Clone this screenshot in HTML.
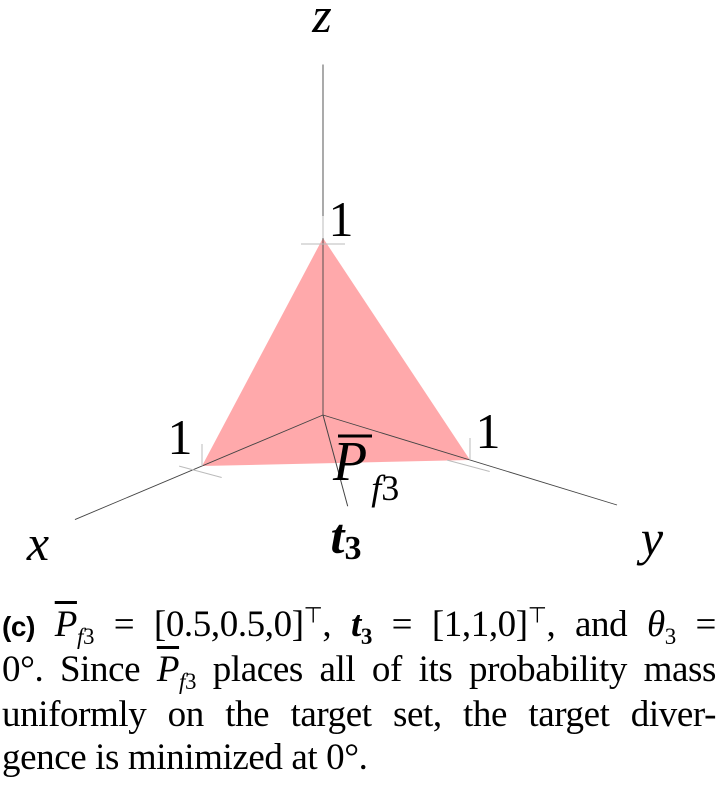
<!DOCTYPE html>
<html><head><meta charset="utf-8"><style>
body{margin:0;background:#fff;width:719px;height:797px;overflow:hidden;position:relative;font-family:"Liberation Serif",serif}
.cap{position:absolute;left:2px;width:714px;font-size:37px;line-height:40px;text-align:justify;text-align-last:justify;white-space:nowrap;letter-spacing:-0.4px}
.cap.last{text-align-last:left}
i{font-style:italic}
sub{font-size:23px;vertical-align:-8px;line-height:0}
sup{font-size:22px;line-height:0}
.ov{text-decoration:overline}
</style></head><body>
<svg id="chart" width="719" height="590" style="position:absolute;left:0;top:0" font-family="Liberation Serif, serif"></svg>
<div class="cap" style="top:605px"><b style="font-family:'Liberation Sans',sans-serif;font-size:28px">(c)</b> <i class="ov">P</i><sub><i>f</i>3</sub> = [0.5,0.5,0]<sup>⊤</sup>, <b><i>t</i><sub>3</sub></b> = [1,1,0]<sup>⊤</sup>, and <i>θ</i><sub>3</sub> =</div>
<div class="cap" style="top:650px">0°. Since <i class="ov">P</i><sub><i>f</i>3</sub> places all of its probability mass</div>
<div class="cap" style="top:695px">uniformly on the target set, the target diver-</div>
<div class="cap last" style="top:738px">gence is minimized at 0°.</div>
<script>
const axisNames=["x","y","z"];
const axisLengths=[2.05,2.0,1.98];
const simplexVertices=[[1,0,0],[0,1,0],[0,0,1]];
const targetVector=[1,1,0];
const tickValue=1;
const origin=[323,415];
const ux=[-121,51],uy=[147,45],uz=[0,-177];
function proj(p){return [origin[0]+p[0]*ux[0]+p[1]*uy[0]+p[2]*uz[0],origin[1]+p[0]*ux[1]+p[1]*uy[1]+p[2]*uz[1]];}
const svg=document.getElementById('chart');const NS="http://www.w3.org/2000/svg";
function mk(t,a,txt){const e=document.createElementNS(NS,t);for(const k in a)e.setAttribute(k,a[k]);if(txt!=null)e.textContent=txt;svg.appendChild(e);return e;}
const tri=mk('polygon',{points:simplexVertices.map(v=>proj(v).join(',')).join(' '),fill:'#ff9a9c','fill-opacity':0.85});


const lblPos=[[38,560],[652,555],[322,32]];
axisNames.forEach((n,i)=>{const e=[0,0,0];e[i]=axisLengths[i];const q=proj(e);
 const l=mk('line',{x1:origin[0],y1:origin[1],x2:q[0],y2:q[1],stroke:'#444','stroke-width':0.9});
 
 
 const t=mk('text',{x:lblPos[i][0],y:lblPos[i][1],'font-size':50,'font-style':'italic','text-anchor':'middle'},n);
 
 
 const u=[0,0,0];u[i]=tickValue;const p=proj(u);
 mk('line',{x1:p[0],y1:p[1],x2:p[0],y2:p[1]-22,stroke:'#bbb','stroke-width':1});
 mk('line',{x1:p[0]-22,y1:p[1]+6,x2:p[0]+22,y2:p[1]+6,stroke:'#bbb','stroke-width':1,transform:i==2?'':'rotate(15 '+p[0]+' '+p[1]+')'});
 const off=[[-22,-12],[18,-12],[18,-2]][i];
 const tt=mk('text',{x:p[0]+off[0],y:p[1]+off[1],'font-size':50,'text-anchor':'middle'},String(tickValue));
 
 
});
const tq=proj(targetVector.map(v=>v*0.95));
const ta=mk('line',{x1:origin[0],y1:origin[1],x2:tq[0],y2:tq[1],stroke:'#444','stroke-width':1});


const tl=mk('text',{x:346,y:553,'font-size':50,'font-style':'italic','font-weight':'bold','text-anchor':'middle'});
tl.innerHTML='t<tspan font-size="34" font-style="normal" dy="6">3</tspan>';


const pc=proj([0.5,0.5,0]);
const pl=mk('text',{x:pc[0]-3,y:pc[1]+17,'font-size':56,'font-style':'italic'});
pl.innerHTML='P<tspan font-size="36" dx="4" dy="20">f</tspan><tspan font-size="36" font-style="normal" dy="0">3</tspan>';


mk('line',{x1:pc[0]+2,y1:pc[1]-27,x2:pc[0]+36,y2:pc[1]-27,stroke:'#000','stroke-width':3});
</script>
</body></html>
